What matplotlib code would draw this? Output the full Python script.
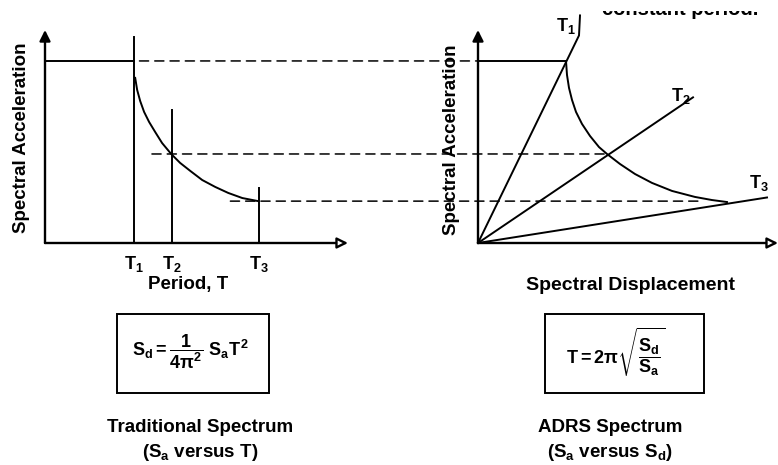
import numpy as np
import matplotlib.pyplot as plt
from matplotlib.patches import ConnectionPatch, Rectangle

plt.rcParams['font.family'] = ['Liberation Sans', 'DejaVu Sans']
plt.rcParams['font.weight'] = 'bold'
plt.rcParams['mathtext.fontset'] = 'custom'
plt.rcParams['mathtext.rm'] = 'Liberation Sans:bold'
plt.rcParams['mathtext.it'] = 'Liberation Sans:bold'
plt.rcParams['mathtext.bf'] = 'Liberation Sans:bold'
plt.rcParams['mathtext.sf'] = 'Liberation Sans:bold'

# Traditional spectrum: period T (s) vs Sa (normalised to plateau)
T_marks = [0.50, 0.71, 1.20]
T_names = ['T$_1$', 'T$_2$', 'T$_3$']
T_line_tops = [1.13, 0.73, 0.30]
Sa_plateau = 1.0
T_curve = [0.506, 0.517, 0.534, 0.556, 0.584, 0.618, 0.657, 0.708, 0.758,
           0.815, 0.882, 0.955, 1.028, 1.107, 1.191]
Sa_curve = [0.907, 0.841, 0.780, 0.720, 0.665, 0.610, 0.549, 0.489, 0.440,
            0.396, 0.346, 0.308, 0.275, 0.247, 0.231]

# ADRS spectrum: Sd vs Sa
Sd_curve = [0.88, 0.89, 0.91, 0.94, 0.98, 1.04, 1.12, 1.21, 1.29, 1.42,
            1.57, 1.74, 1.94, 2.17, 2.34, 2.49]
Sa_curve_adrs = [1.0, 0.923, 0.852, 0.786, 0.720, 0.654, 0.588, 0.527, 0.489,
                 0.434, 0.379, 0.330, 0.286, 0.253, 0.236, 0.225]
T1_ray_Sd = [0, 1.01, 1.02]
T1_ray_Sa = [0, 1.14, 1.25]
T2_ray_Sd = [0, 2.15]
T2_ray_Sa = [0, 0.80]
T3_ray_Sd = [0, 2.89]
T3_ray_Sa = [0, 0.25]
ray_label_Sd = [0.88, 2.03, 2.81]
ray_label_Sa = [1.19, 0.81, 0.33]

# dashed links between the two panels
Sa_levels = [1.0, 0.489, 0.23]
dash_start_T = [0.53, 0.60, 1.04]
dash_end_Sd = [0.0, 1.29, 2.22]

W, H = 778, 465
fig = plt.figure(figsize=(W / 100, H / 100), dpi=100)


def fx(x):
    return x / W


def fy(y):
    return 1 - y / H


ax1 = fig.add_axes([fx(45), fy(243), 303 / W, 213 / H])
ax2 = fig.add_axes([fx(478), fy(243), 300 / W, 213 / H])
for ax, xmax in [(ax1, 1.70), (ax2, 3.0)]:
    ax.set_xlim(0, xmax)
    ax.set_ylim(0, 1.17)
    for s in ax.spines.values():
        s.set_visible(False)
    ax.set_yticks([])
    ax.patch.set_alpha(0)
    # axis arrows
    ax.annotate('', xy=(0, 1.17), xytext=(0, 0),
                arrowprops=dict(arrowstyle='-|>', lw=1.7, color='black',
                                mutation_scale=16, shrinkA=0, shrinkB=0),
                annotation_clip=False)
    ax.annotate('', xy=(xmax, 0), xytext=(0, 0),
                arrowprops=dict(arrowstyle='-|>', lw=1.7, ec='black', fc='white',
                                mutation_scale=16, shrinkA=0, shrinkB=0),
                annotation_clip=False)

lw = 1.4
# traditional spectrum
ax1.plot([0, T_marks[0]], [Sa_plateau, Sa_plateau], color='black', lw=lw)
ax1.plot(T_curve, Sa_curve, color='black', lw=lw, solid_joinstyle='round')
for t, top in zip(T_marks, T_line_tops):
    ax1.plot([t, t], [0, top], color='black', lw=lw)
ax1.set_xticks(T_marks, T_names, fontsize=13)
ax1.tick_params(axis='x', length=0, pad=8)

# ADRS spectrum
ax2.set_xticks([])
ax2.plot([0, Sd_curve[0]], [Sa_plateau, Sa_plateau], color='black', lw=lw)
ax2.plot(Sd_curve, Sa_curve_adrs, color='black', lw=lw, solid_joinstyle='round')
for xs, ys in [(T1_ray_Sd, T1_ray_Sa), (T2_ray_Sd, T2_ray_Sa), (T3_ray_Sd, T3_ray_Sa)]:
    ax2.plot(xs, ys, color='black', lw=lw, clip_on=False)
for name, x, y in zip(T_names, ray_label_Sd, ray_label_Sa):
    ax2.text(x, y, name, fontsize=13, ha='center', va='center')

for sa, t0, sd1 in zip(Sa_levels, dash_start_T, dash_end_Sd):
    con = ConnectionPatch(xyA=(t0, sa), coordsA=ax1.transData,
                          xyB=(sd1, sa), coordsB=ax2.transData,
                          color='black', lw=1.1, linestyle=(0, (6, 4)))
    fig.add_artist(con)

# labels
fig.text(fx(22), fy(138), 'Spectral Acceleration', rotation=90, fontsize=13.5,
         ha='center', va='center')
fig.text(fx(452), fy(140), 'Spectral Acceleration', rotation=90, fontsize=13.5,
         ha='center', va='center')
fig.text(fx(188), fy(285), 'Period, T', fontsize=13.5, ha='center', va='center')
fig.text(fx(631), fy(285), 'Spectral Displacement', fontsize=14, ha='center', va='center')

# formula boxes
for x0, x1 in [(117, 269), (545, 704)]:
    fig.add_artist(Rectangle((fx(x0), fy(393)), (x1 - x0) / W, 79 / H,
                             transform=fig.transFigure, fill=False, lw=1.4, ec='black'))
fig.text(fx(191), fy(352), r'$S_d = \dfrac{1}{4\pi^2}\ S_aT^2$', fontsize=13,
         ha='center', va='center')
fig.text(fx(616), fy(352), r'$T = 2\pi\sqrt{\dfrac{S_d}{S_a}}$', fontsize=13,
         ha='center', va='center')

fig.text(fx(200), fy(427), 'Traditional Spectrum', fontsize=13.5, ha='center', va='center')
fig.text(fx(200), fy(452), '(S$_a$ versus T)', fontsize=13.5, ha='center', va='center')
fig.text(fx(610), fy(427), 'ADRS Spectrum', fontsize=13.5, ha='center', va='center')
fig.text(fx(610), fy(452), '(S$_a$ versus S$_d$)', fontsize=13.5, ha='center', va='center')

# caption cut off by the top edge of the scan
fig.text(fx(602), fy(15), 'constant period.', fontsize=14.5, ha='left',
         va='baseline', zorder=1)
fig.add_artist(Rectangle((fx(592), fy(11)), 186 / W, 11 / H, transform=fig.transFigure,
                         fc='white', ec='none', zorder=20))

fig.savefig('out.png', dpi=100)
